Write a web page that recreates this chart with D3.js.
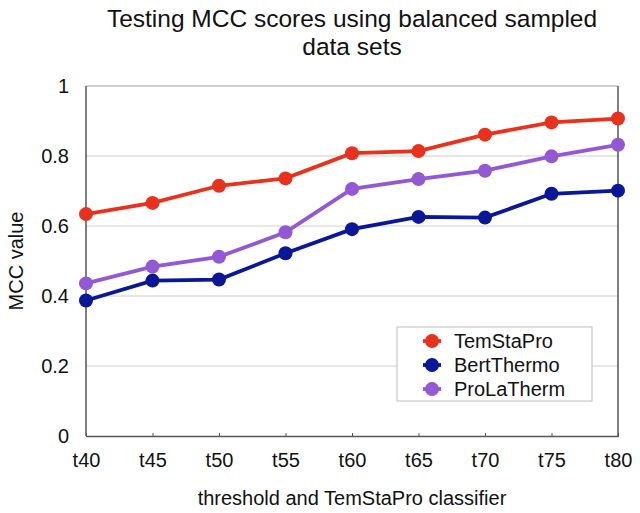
<!DOCTYPE html>
<html>
<head>
<meta charset="utf-8">
<script src="https://cdn.jsdelivr.net/npm/d3@7"></script>
<style>
  body { margin: 0; background: #fff; }
  text { font-family: "Liberation Sans", Arial, Helvetica, sans-serif; fill: #111; }
</style>
</head>
<body>
<div id="chart"></div>
<script>
var thresholds = ["t40", "t45", "t50", "t55", "t60", "t65", "t70", "t75", "t80"];
var temStaPro = [0.634, 0.666, 0.715, 0.736, 0.808, 0.814, 0.861, 0.896, 0.907];
var bertThermo = [0.387, 0.444, 0.447, 0.522, 0.591, 0.626, 0.624, 0.692, 0.701];
var proLaTherm = [0.436, 0.484, 0.512, 0.582, 0.706, 0.734, 0.758, 0.799, 0.832];
var yTicks = [0, 0.2, 0.4, 0.6, 0.8, 1];

var seriesNames = ["TemStaPro", "BertThermo", "ProLaTherm"];
var seriesColors = ["#e8321e", "#0a1796", "#9358d4"];
var series = [temStaPro, bertThermo, proLaTherm];

var margin = { top: 86, right: 22, bottom: 77, left: 86 },
    width = 640 - margin.left - margin.right,
    height = 513 - margin.top - margin.bottom;

var root = d3.select("#chart").append("svg")
    .attr("width", 640)
    .attr("height", 513);

var svg = root.append("g")
    .attr("transform", "translate(" + margin.left + "," + margin.top + ")");

var x = d3.scalePoint().domain(thresholds).range([0, width]);
var y = d3.scaleLinear().domain([0, 1]).range([height, 0]);

// gridlines
svg.selectAll(".grid")
    .data(yTicks.filter(function (d) { return d > 0 && d < 1; }))
    .enter().append("line")
    .attr("x1", 0).attr("x2", width)
    .attr("y1", function (d) { return y(d); })
    .attr("y2", function (d) { return y(d); })
    .attr("stroke", "#cfcfcf")
    .attr("stroke-width", 1);

// frame
svg.append("line").attr("x1", 0).attr("x2", width).attr("y1", 0).attr("y2", 0)
    .attr("stroke", "#9a9a9a");
svg.append("line").attr("x1", width).attr("x2", width).attr("y1", 0).attr("y2", height)
    .attr("stroke", "#555").attr("stroke-width", 1.5);
svg.append("line").attr("x1", 0).attr("x2", 0).attr("y1", 0).attr("y2", height)
    .attr("stroke", "#555").attr("stroke-width", 1.5);

// x axis
var xAxis = svg.append("g")
    .attr("transform", "translate(0," + height + ")")
    .call(d3.axisBottom(x).tickSizeInner(-4).tickSizeOuter(0).tickPadding(17));
xAxis.select(".domain").attr("stroke", "#555").attr("stroke-width", 1.5);
xAxis.selectAll(".tick line").attr("stroke", "#555").attr("transform", "translate(0,1)");
xAxis.selectAll("text").style("font-size", "20px").attr("fill", "#111")
    .style("font-family", "'Liberation Sans', Arial, sans-serif");

// y axis labels
var yAxis = svg.append("g")
    .call(d3.axisLeft(y).tickValues(yTicks).tickSize(0).tickPadding(17)
        .tickFormat(function (d) { return d3.format("")(d); }));
yAxis.select(".domain").remove();
yAxis.selectAll("text").style("font-size", "20px").attr("fill", "#111")
    .style("font-family", "'Liberation Sans', Arial, sans-serif");

// lines and markers
var line = d3.line()
    .x(function (d, i) { return x(thresholds[i]); })
    .y(function (d) { return y(d); });

series.forEach(function (vals, k) {
    svg.append("path")
        .datum(vals)
        .attr("d", line)
        .attr("fill", "none")
        .attr("stroke", seriesColors[k])
        .attr("stroke-width", 3.8);
    svg.selectAll(".dot" + k)
        .data(vals)
        .enter().append("circle")
        .attr("cx", function (d, i) { return x(thresholds[i]); })
        .attr("cy", function (d) { return y(d); })
        .attr("r", 7)
        .attr("fill", seriesColors[k]);
});

// legend
var legend = svg.append("g").attr("transform", "translate(" + (397 - margin.left) + "," + (327 - margin.top) + ")");
legend.append("rect")
    .attr("width", 195).attr("height", 74)
    .attr("fill", "#fff").attr("stroke", "#bbb");
seriesNames.forEach(function (name, k) {
    var yy = 14 + k * 24;
    legend.append("line").attr("x1", 26).attr("x2", 44).attr("y1", yy).attr("y2", yy)
        .attr("stroke", seriesColors[k]).attr("stroke-width", 3.8);
    legend.append("circle").attr("cx", 35).attr("cy", yy).attr("r", 7).attr("fill", seriesColors[k]);
    legend.append("text").attr("x", 57).attr("y", yy).attr("dy", "0.35em")
        .style("font-size", "20px").text(name);
});

// title
root.append("text")
    .attr("x", margin.left + width / 2).attr("y", 27)
    .attr("text-anchor", "middle").style("font-size", "24.5px")
    .text("Testing MCC scores using balanced sampled");
root.append("text")
    .attr("x", margin.left + width / 2).attr("y", 55)
    .attr("text-anchor", "middle").style("font-size", "24.5px")
    .text("data sets");

// axis titles
root.append("text")
    .attr("x", margin.left + width / 2).attr("y", 505)
    .attr("text-anchor", "middle").style("font-size", "20px")
    .text("threshold and TemStaPro classifier");
root.append("text")
    .attr("transform", "translate(23," + (margin.top + height / 2) + ") rotate(-90)")
    .attr("text-anchor", "middle").style("font-size", "20px")
    .text("MCC value");
</script>
</body>
</html>
